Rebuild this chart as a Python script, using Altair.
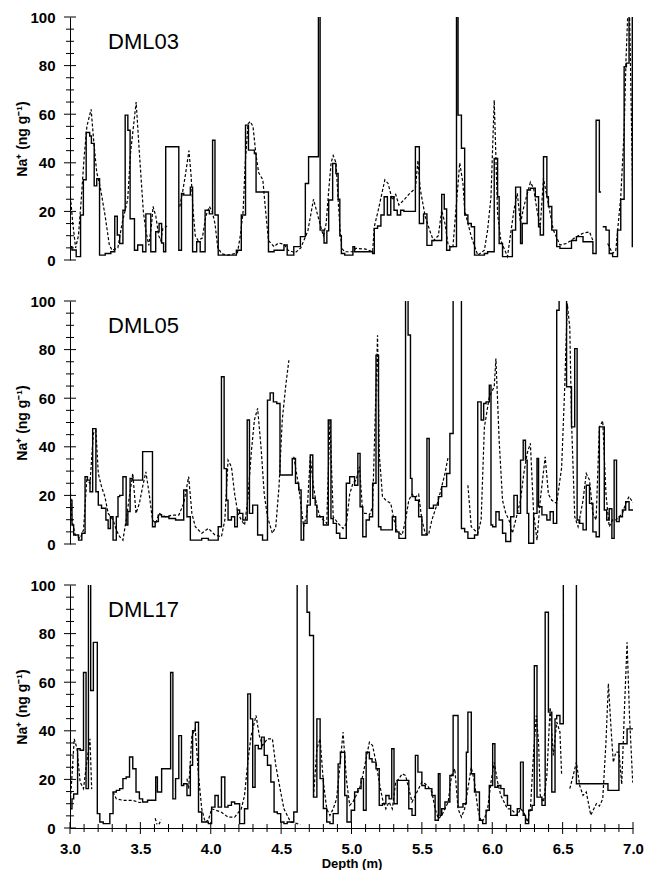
import altair as alt
import pandas as pd

FONT = "Liberation Sans"

# ---------------- axis tick / label values ----------------
Y_LABELS = [0, 20, 40, 60, 80, 100]
Y_MAJOR = [0, 20, 40, 60, 80, 100]
Y_MINOR = [5, 10, 15, 25, 30, 35, 45, 50, 55, 65, 70, 75, 85, 90, 95]
X_LABELS = [3.0, 3.5, 4.0, 4.5, 5.0, 5.5, 6.0, 6.5, 7.0]
X_MAJOR = [3.0, 3.5, 4.0, 4.5, 5.0, 5.5, 6.0, 6.5, 7.0]
X_MINOR = [3.1, 3.2, 3.3, 3.4, 3.6, 3.7, 3.8, 3.9, 4.1, 4.2, 4.3, 4.4,
           4.6, 4.7, 4.8, 4.9, 5.1, 5.2, 5.3, 5.4, 5.6, 5.7, 5.8, 5.9,
           6.1, 6.2, 6.3, 6.4, 6.6, 6.7, 6.8, 6.9]

PANELS = ["DML03", "DML05", "DML17"]

# ---------------- DML03 ----------------
DML03_SOLID_DEPTH = [
    3.000, 3.014, 3.044, 3.075, 3.095, 3.115, 3.140, 3.152, 3.172, 3.190,
    3.210, 3.250, 3.290, 3.318, 3.336, 3.353, 3.376, 3.392, 3.411, 3.427,
    3.458, 3.481, 3.516, 3.539, 3.574, 3.609, 3.633, 3.651, 3.665, 3.680,
    3.773, 3.792, 3.808, 3.855, 3.871, 3.900, 3.925, 3.960, 3.990, 4.013,
    4.030, 4.053, 4.182, 4.217, 4.247, 4.268, 4.310, 4.322, 4.410, 4.450,
    4.520, 4.543, 4.590, 4.637, 4.672, 4.695, 4.765, 4.777, 4.805, 4.825,
    4.838, 4.866, 4.889, 4.905, 4.917, 4.928, 4.952, 5.010, 5.022, 5.150,
    5.162, 5.185, 5.209, 5.232, 5.255, 5.279, 5.302, 5.325, 5.349, 5.372,
    5.454, 5.482, 5.512, 5.536, 5.571, 5.641, 5.659, 5.676, 5.699, 5.746,
    5.757, 5.781, 5.804, 5.827, 5.851, 5.874, 5.944, 5.967, 6.014, 6.038,
    6.049, 6.073, 6.143, 6.166, 6.201, 6.213, 6.248, 6.271, 6.306, 6.329,
    6.341, 6.364, 6.388, 6.399, 6.423, 6.458, 6.481, 6.563, 6.598, 6.645,
    6.715, 6.738, 6.761, 6.773, None,
    6.785, 6.808, 6.831, 6.855, 6.890, 6.913, 6.937, 6.953, 6.972, 6.995,
    7.000]
DML03_SOLID_NA = [
    5.5, 4.1, 1.4, 18.5, 33, 52.5, 51, 48, 30.5, 33.5,
    2, 2.7, 3.4, 18, 10.3, 6.8, 20.5, 59.6, 53.4, 17,
    4, 6.2, 3.4, 19, 3.4, 11.6, 15, 7, 3.4, 46.6,
    4, 27.4, 26.7, 30, 3.4, 7.5, 3.4, 20.5, 19, 49.3,
    18.5, 2, 4, 18.5, 55.5, 45.2, 43.8, 28, 3.4, 4,
    6.2, 2, 5.5, 9.6, 31.5, 42.5, 130, 12.3, 7, 12,
    24.7, 39.7, 35.6, 25, 10, 2.7, 2, 5.5, 3.4, 2.7,
    13, 14, 18.5, 26, 18.5, 26, 20.5, 18.5, 20.5, 20,
    46.6, 15, 19, 6, 8, 27, 21, 4, 5.5, 130,
    59.6, 46, 18.5, 15, 13.7, 2, 2.7, 3.4, 41.8, 26,
    6.8, 1.4, 12.3, 30, 6.8, 15, 28.8, 29.5, 26, 13.7,
    10.3, 42.5, 26, 22, 12.3, 5.5, 4.8, 8, 9.6, 7.5,
    2.7, 57.5, 28, 28, None,
    13.7, 12.3, 2.7, 1.4, 12.3, 25, 79.5, 81, 130, 5.5,
    5.5]
DML03_DASH_DEPTH = [
    3.000, 3.020, 3.040, 3.060, 3.080, 3.100, 3.120, 3.150, 3.170, 3.190,
    3.215, 3.250, 3.280, 3.300, 3.340, 3.370, 3.390, 3.410, 3.430, 3.470,
    3.493, 3.521, 3.539, 3.560, 3.580, 3.590, 3.610, 3.630, 3.645, 3.660,
    3.690, None,
    3.780, 3.800, 3.820, 3.845, 3.860, 3.875, 3.890, 3.910, 3.940, 3.965,
    3.990, 4.010, 4.030, 4.050, 4.080, 4.120, 4.160, 4.190, 4.210, 4.230,
    4.245, 4.265, 4.280, 4.300, 4.320, 4.340, 4.370, 4.390, 4.410, 4.450,
    4.480, 4.520, 4.550, 4.600, 4.640, 4.690, 4.730, 4.780, 4.800, 4.820,
    4.840, 4.855, 4.870, 4.890, 4.905, 4.917, 4.930, 4.950, 5.010, 5.030,
    5.100, 5.150, 5.162, 5.190, 5.237, 5.260, 5.290, 5.314, 5.337, 5.372,
    5.407, 5.454, 5.472, 5.489, 5.524, 5.559, 5.582, 5.617, 5.641, 5.664,
    5.687, 5.720, 5.769, 5.792, 5.804, 5.851, 5.897, 5.944, 5.967, 5.991,
    6.014, 6.038, 6.061, 6.108, 6.154, 6.178, 6.201, 6.224, 6.271, 6.294,
    6.318, 6.341, 6.364, 6.399, 6.434, 6.481, 6.528, 6.598, 6.645, 6.691,
    6.715, None,
    6.820, 6.855, 6.878, 6.913, 6.937, 6.950, 6.962, 6.975, 6.988, 6.998]
DML03_DASH_NA = [
    28, 15, 5, 10, 25, 42, 55, 62, 48, 36,
    30, 18, 6, 4, 5, 15, 20, 25, 44, 65,
    44, 20, 12, 6, 15, 22, 18, 10, 8, 13,
    14, None,
    22, 28, 35, 45, 35, 20, 10, 8, 9, 18,
    22, 20, 15, 5, 2.5, 2, 2.5, 3, 10, 20,
    40, 56, 57, 55, 44, 36, 33, 20, 8, 5.5,
    7, 6.5, 4, 3, 5, 12, 25, 14, 10, 15,
    30, 40, 43, 40, 25, 13.7, 5, 3.4, 3.4, 4.8,
    4.5, 3.4, 13.7, 20.5, 33, 31.5, 24.7, 27, 22.6, 24.7,
    27, 29.5, 41, 29, 17.8, 11.6, 8, 10, 20.5, 15,
    6, 5, 40, 31.5, 20.5, 9.6, 2, 4, 12.3, 26,
    65.8, 19, 8, 1.4, 20.5, 27.4, 15, 21.9, 32, 29.5,
    20.5, 13.7, 33.6, 23, 12.3, 6.2, 6.8, 9.6, 11, 11.6,
    8, None,
    6.8, 2.7, 4, 26, 53, 82, 100, 104, 60, 26]

# ---------------- DML05 ----------------
DML05_SOLID_DEPTH = [
    3.000, 3.014, 3.026, 3.061, 3.084, 3.107, 3.124, 3.142, 3.161, 3.184,
    3.201, 3.224, 3.255, 3.271, 3.287, 3.306, 3.329, 3.341, 3.353, 3.376,
    3.399, 3.411, 3.427, 3.446, 3.516, 3.586, 3.605, 3.628, 3.651, 3.703,
    3.750, 3.808, 3.831, 3.855, 3.936, 3.983, 4.053, 4.076, 4.095, 4.112,
    4.123, 4.147, 4.170, 4.189, 4.205, 4.228, 4.259, 4.275, 4.298, 4.333,
    4.368, 4.403, 4.422, 4.445, 4.469, 4.492, 4.579, 4.602, 4.625, 4.642,
    4.660, 4.684, 4.707, 4.725, 4.742, 4.754, 4.800, 4.835, 4.854, 4.870,
    4.893, 4.917, 4.963, 4.987, 5.022, 5.045, 5.061, 5.080, 5.104, 5.127,
    5.150, 5.174, 5.192, 5.209, 5.290, 5.314, 5.337, 5.384, 5.402, 5.419,
    5.430, 5.454, 5.477, 5.500, 5.536, 5.552, 5.582, 5.617, 5.641, 5.676,
    5.699, 5.722, 5.781, 5.804, 5.827, 5.874, 5.897, 5.921, 5.939, 5.956,
    5.979, 5.991, 6.003, 6.026, 6.049, 6.073, 6.096, 6.131, 6.154, 6.178,
    6.201, 6.220, 6.236, 6.248, 6.259, 6.294, 6.318, 6.329, 6.353, 6.388,
    6.411, 6.434, 6.458, 6.475, 6.528, 6.563, 6.586, 6.603, 6.621, 6.645,
    6.668, 6.691, 6.715, 6.738, 6.761, 6.796, 6.813, 6.831, 6.850, 6.866,
    6.883, 6.902, 6.925, 6.948, 6.972, 7.000]
DML05_SOLID_NA = [
    18, 7.8, 3.7, 1.6, 4.4, 27.7, 26.3, 21.5, 47.5, 21.5,
    16, 14.7, 9.9, 6.4, 11.2, 1.6, 11.2, 19.5, 20, 27.7,
    7.8, 13.4, 27, 26.3, 38, 7.1, 9.2, 12, 11.2, 10.5,
    9.9, 22.2, 11.2, 1.6, 2.3, 1.6, 7.1, 68.8, 31, 18,
    9.9, 11.2, 7.1, 14, 12.6, 9.9, 51, 12.6, 16, 3.7,
    1.6, 59.2, 62.2, 58.5, 57.8, 28.4, 35.2, 25, 22.2, 1.6,
    8.5, 16, 36.6, 18.8, 16, 11.2, 7.8, 51, 10.5, 8.5,
    4.4, 2.3, 25, 27.7, 24.2, 37.3, 15.3, 3, 9.9, 11.2,
    25, 77.7, 7.1, 5.8, 11.2, 5, 2.3, 130, 86, 27,
    19.5, 18, 11.2, 3.7, 43.4, 14.7, 16, 19.5, 23.6, 29,
    45.5, 130, 6.4, 5, 2.3, 3.7, 58.5, 51, 57.8, 58.5,
    65.3, 7.8, 7.1, 13.3, 9.9, 4.4, 1, 11.2, 20, 12.6,
    34.5, 42.7, 34.5, 12.6, 0.3, 12.6, 35.2, 15.3, 12, 9.9,
    13.3, 8.5, 96.2, 130, 64.7, 48.2, 80.4, 9.9, 8.5, 5.8,
    24.2, 16.7, 5, 3, 48.2, 14, 9.9, 14.5, 2.3, 34.5,
    9.2, 11.2, 14, 17.4, 14, 14]
DML05_DASH_DEPTH = [
    3.000, 3.014, 3.037, 3.072, 3.096, 3.119, 3.142, 3.166, 3.184, 3.201,
    3.224, 3.248, 3.271, 3.306, 3.329, 3.353, 3.376, 3.399, 3.423, 3.446,
    3.469, 3.493, 3.516, 3.539, 3.563, 3.586, 3.609, 3.633, 3.680, 3.726,
    3.773, 3.808, 3.843, 3.866, 3.890, 3.936, 3.983, 4.030, 4.076, 4.100,
    4.123, 4.147, 4.170, 4.193, 4.217, 4.240, 4.263, 4.287, 4.310, 4.333,
    4.357, 4.380, 4.403, 4.438, 4.462, 4.485, 4.508, 4.532, 4.555, None,
    4.590, 4.625, 4.660, 4.684, 4.707, 4.730, 4.754, 4.777, 4.824, 4.847,
    4.870, 4.905, 4.940, 4.964, 4.987, 5.010, 5.033, 5.057, 5.080, 5.104,
    5.127, 5.150, 5.185, 5.197, 5.220, 5.244, 5.279, 5.302, 5.325, 5.360,
    5.384, 5.407, 5.430, 5.454, 5.477, 5.500, 5.524, 5.547, 5.571, 5.617,
    5.664, 5.687, None,
    5.827, 5.851, 5.897, 5.921, 5.944, 5.979, 6.014, 6.026, 6.049, 6.073,
    6.096, 6.119, 6.143, 6.178, 6.201, 6.224, 6.248, 6.271, 6.294, 6.318,
    6.341, 6.376, 6.399, 6.423, 6.458, 6.493, 6.515, 6.533, 6.551, 6.563,
    6.586, 6.610, 6.645, 6.668, 6.691, 6.715, 6.738, 6.761, 6.785, 6.808,
    6.831, 6.855, 6.878, 6.902, 6.925, 6.948, 6.972, 7.000]
DML05_DASH_NA = [
    25, 9.9, 3.7, 2.3, 5.8, 26.3, 25, 45.5, 46.8, 29,
    23.6, 19.5, 12.6, 9.9, 5.8, 3, 1.6, 9.9, 20, 29,
    12.6, 16.7, 23.6, 29.7, 20.5, 9.9, 8.5, 12.6, 11.2, 11.9,
    11.9, 16.7, 27.7, 12.6, 7.1, 4.4, 6.4, 3.7, 3, 9.9,
    34.5, 31.8, 20.5, 12.6, 9.9, 7.8, 18, 37, 51, 55.8,
    40, 20.5, 11.2, 4.4, 7.1, 23.6, 51, 64.7, 75.6, None,
    35.9, 23.6, 7.1, 12.6, 35.9, 23.6, 15.3, 11.2, 8.5, 51,
    11.2, 8.5, 6.4, 8.5, 20.5, 25, 26.3, 31.8, 12.6, 12.6,
    11.9, 15.3, 85.9, 37.3, 19.5, 18, 16.7, 9.9, 5, 3.7,
    9.9, 18, 20.5, 19.2, 20.5, 9.9, 4.4, 3.7, 9.9, 18,
    29, 35.9, None,
    24.2, 7.1, 4.4, 9.9, 48, 60.5, 64.7, 76.3, 42.7, 18,
    12.6, 9.9, 4.4, 12.6, 18, 29, 37.3, 41.4, 12.6, 1.6,
    18, 35.9, 20.5, 18, 16.7, 31.5, 64.7, 99, 89, 51,
    11.2, 7.1, 18, 29, 26.3, 12.6, 9.9, 48, 50.7, 20.5,
    7.1, 9.9, 9.9, 11.2, 12.6, 16.7, 19.5, 17]

# ---------------- DML17 ----------------
DML17_SOLID_DEPTH = [
    3.000, 3.014, 3.026, 3.054, 3.072, 3.096, 3.114, 3.131, 3.147, 3.166,
    3.194, 3.212, 3.236, 3.283, 3.306, 3.329, 3.353, 3.376, 3.399, 3.423,
    3.446, 3.469, 3.493, 3.516, 3.551, 3.609, 3.621, 3.651, 3.715, 3.731,
    3.750, 3.773, 3.792, 3.808, 3.831, 3.855, 3.871, 3.890, 3.913, 3.936,
    3.983, 4.006, 4.030, 4.053, 4.076, 4.100, 4.123, 4.147, 4.170, 4.205,
    4.240, 4.263, 4.282, 4.298, 4.315, 4.338, 4.361, 4.380, 4.403, 4.427,
    4.450, 4.473, 4.497, 4.520, 4.543, 4.590, 4.614, 4.684, 4.702, 4.730,
    4.754, 4.777, 4.800, 4.824, 4.847, 4.870, 4.905, 4.921, 4.952, 4.968,
    4.998, 5.022, 5.045, 5.068, 5.085, 5.104, 5.127, 5.146, 5.174, 5.197,
    5.220, 5.244, 5.267, 5.286, 5.302, 5.325, 5.407, 5.430, 5.454, 5.472,
    5.500, 5.524, 5.571, 5.594, 5.617, 5.629, 5.641, 5.664, 5.699, 5.722,
    5.757, 5.792, 5.816, 5.827, 5.851, 5.874, 5.909, 5.932, 5.956, 5.979,
    6.003, 6.019, 6.038, 6.061, 6.084, 6.108, 6.131, 6.178, 6.201, 6.220,
    6.236, 6.259, 6.283, 6.299, 6.318, 6.353, 6.376, 6.399, 6.423, 6.446,
    6.458, 6.481, 6.505, 6.598, 6.822, 6.900, 6.958, 7.000]
DML17_SOLID_NA = [
    7.9, 12, 14, 32.6, 32, 64, 16.2, 130, 56.6, 76.4,
    5.9, 2.5, 1.8, 5.9, 14.8, 15.5, 16.2, 20.3, 21, 29.2,
    24.4, 14.8, 12, 10.7, 11.4, 21, 14.8, 24.4, 64, 12,
    20.3, 38, 17.5, 18.2, 13.4, 25.8, 40, 43.5, 6.6, 2.5,
    1.8, 8.6, 13.4, 8.6, 21, 8.6, 9.3, 10.7, 10, 1.8,
    7.9, 55.2, 44.9, 16.8, 34, 32.6, 37.4, 29.9, 25.8, 18.9,
    6.6, 5.9, 2.5, 1.8, 2.5, 6.6, 140, 88.8, 79.2, 12.7,
    44.9, 20.3, 8, 2.5, 1.8, 5.9, 26.4, 31.2, 13.4, 2.5,
    7.3, 14.8, 16.2, 20.3, 7.3, 31.2, 28.5, 27.1, 24.4, 9.3,
    10, 13.4, 12, 32.6, 10, 19.6, 7.9, 5.2, 29.9, 23,
    17.5, 16.2, 13.4, 3.2, 22.3, 5.2, 7.9, 10.7, 21.6, 46.3,
    8.6, 10, 31.2, 47.7, 22.3, 14.8, 3.2, 1.8, 7.3, 17.5,
    34.7, 16.8, 17.5, 16.2, 13.4, 9.3, 5.2, 7.9, 27.1, 5.2,
    1.8, 7.3, 9.3, 66.8, 12.7, 9.3, 88.8, 47.7, 14.8, 44.9,
    46.3, 42.9, 150, 18.2, 15.5, 34.7, 40.8, 40.8]
DML17_DASH_DEPTH = [
    3.000, 3.014, 3.030, 3.050, 3.072, 3.096, 3.119, 3.142, 3.154, None,
    3.306, 3.329, 3.376, 3.446, 3.493, 3.520, None,
    3.605, 3.618, None, 3.632, 3.648, None,
    3.831, 3.843, 3.866, 3.890, 3.913, 3.936, 3.960, 3.983, 4.006, 4.076,
    4.123, 4.170, 4.217, 4.240, 4.263, 4.287, 4.322, 4.345, 4.368, 4.403,
    4.438, 4.462, 4.497, 4.520, 4.567, 4.614, 4.637, None,
    4.730, 4.754, 4.777, 4.800, 4.824, 4.847, 4.870, 4.894, 4.917, 4.940,
    4.964, 4.987, 5.010, 5.033, 5.057, 5.080, 5.104, 5.127, 5.150, 5.174,
    5.197, 5.220, 5.244, 5.267, 5.290, 5.314, 5.337, 5.360, 5.384, 5.407,
    5.430, 5.454, 5.477, 5.500, 5.524, 5.547, 5.571, 5.594, 5.617, 5.641,
    5.664, 5.687, 5.711, 5.734, 5.757, 5.781, 5.804, 5.827, 5.851, 5.874,
    5.897, 5.921, 5.944, 5.967, 5.991, 6.014, 6.038, 6.061, 6.084, 6.108,
    6.131, 6.154, 6.178, 6.201, 6.224, 6.248, 6.271, 6.294, 6.313, 6.329,
    6.341, 6.364, 6.388, 6.411, 6.434, 6.458, 6.481, 6.493, None,
    6.551, 6.575, 6.598, 6.621, 6.645, 6.668, 6.700, 6.740, 6.761, 6.785,
    6.808, 6.825, 6.845, 6.860, 6.878, 6.900, 6.920, 6.940, 6.958, 6.975,
    6.998]
DML17_DASH_NA = [
    7.9, 21.6, 36.7, 32.6, 18.9, 16.2, 27, 36.7, 16, None,
    14.8, 12, 11.4, 11.4, 10.5, 10.7, None,
    4, 1.5, None, 1.5, 3.5, None,
    20.3, 16.2, 38, 40.8, 21.6, 7.9, 2.5, 3.2, 7.9, 6.5,
    4.5, 4.5, 7.9, 13.4, 27, 38, 46.3, 38, 34, 36.7,
    36.7, 25.8, 14.8, 7.9, 2.5, 1.8, 1.4, None,
    12.7, 32.6, 36.7, 18.9, 7.9, 5.2, 7.9, 12, 25, 39.5,
    20, 9.3, 10.7, 13.4, 16.2, 21.6, 28.5, 35.3, 33.9, 27,
    18.9, 12, 7.9, 10.7, 7.9, 18.9, 20.3, 22.3, 21.6, 16.2,
    10.7, 13.4, 16.2, 18.9, 18.2, 16.8, 14.8, 7.9, 3.8, 5.2,
    7.9, 10.7, 21.6, 24.4, 7.9, 4.5, 7.9, 16.2, 25, 18.9,
    7.9, 2.5, 3.8, 7.9, 18.9, 27, 18.9, 13.4, 10.7, 7.9,
    7.9, 6.6, 5.2, 7.9, 6.6, 2.5, 7.9, 31.2, 46.3, 35.3,
    13.4, 10.7, 21.6, 49.7, 29.9, 43.6, 39.5, 21.6, None,
    16.2, 21.6, 27.1, 17.5, 13.4, 14.8, 5.3, 10, 9, 12,
    35.3, 59.5, 40, 27, 31.2, 31.2, 18, 50, 76.4, 46.3,
    18.7]

SERIES = {
    "DML03": (DML03_SOLID_DEPTH, DML03_SOLID_NA, DML03_DASH_DEPTH, DML03_DASH_NA),
    "DML05": (DML05_SOLID_DEPTH, DML05_SOLID_NA, DML05_DASH_DEPTH, DML05_DASH_NA),
    "DML17": (DML17_SOLID_DEPTH, DML17_SOLID_NA, DML17_DASH_DEPTH, DML17_DASH_NA),
}


def to_frame(depths, values):
    rows, seg = [], 0
    for d, v in zip(depths, values):
        if d is None or v is None:
            seg += 1
            continue
        rows.append({"depth": d, "na": v, "seg": seg})
    return pd.DataFrame(rows)


W, H = 563, 243
X_DOMAIN = [3.0, 7.0]
Y_DOMAIN = [0, 100]


def y_axis():
    return alt.Axis(
        values=Y_LABELS, ticks=False, grid=False, domain=True,
        domainColor="black", domainWidth=1,
        labelFont=FONT, labelFontWeight="bold", labelFontSize=15,
        labelColor="black", labelPadding=15,
        title="Na⁺ (ng g⁻¹)", titleFont=FONT, titleFontWeight="bold",
        titleFontSize=14, titleColor="black", titlePadding=0,
    )


def x_axis():
    return alt.Axis(
        values=X_LABELS, format=".1f", ticks=False, grid=False, domain=True,
        domainColor="black", domainWidth=1, labelFlush=False,
        labelFont=FONT, labelFontWeight="bold", labelFontSize=15,
        labelColor="black", labelPadding=13,
        title="Depth (m)", titleFont=FONT, titleFontWeight="bold",
        titleFontSize=13, titleColor="black", titlePadding=1,
    )


def panel(name, bottom):
    sd, sv, dd, dv = SERIES[name]
    solid_df = to_frame(sd, sv)
    dash_df = to_frame(dd, dv)

    ytick_df = pd.DataFrame(
        {"na": Y_MAJOR + Y_MINOR,
         "size": [12] * len(Y_MAJOR) + [8] * len(Y_MINOR)})
    ytick_df["depth"] = X_DOMAIN[0]

    xs = alt.Scale(domain=X_DOMAIN, nice=False, zero=False)
    ys = alt.Scale(domain=Y_DOMAIN, nice=False, zero=False)

    base_x = alt.X("depth:Q", scale=xs,
                   axis=x_axis() if bottom else None)
    base_y = alt.Y("na:Q", scale=ys, axis=y_axis())

    dashed = alt.Chart(dash_df).mark_line(
        color="black", strokeWidth=1.2, strokeDash=[3, 2], clip=True
    ).encode(x=base_x, y=base_y, detail="seg:N")

    solid = alt.Chart(solid_df).mark_line(
        color="black", strokeWidth=1.4, interpolate="step-after", clip=True
    ).encode(x=base_x, y=base_y, detail="seg:N")

    yticks = alt.Chart(ytick_df).mark_tick(
        orient="horizontal", thickness=1, color="black", opacity=1
    ).encode(x=base_x, y=base_y,
             size=alt.Size("size:Q", scale=None, legend=None))

    lab_df = pd.DataFrame({"name": [name], "depth": [3.27], "na": [87]})
    label = alt.Chart(lab_df).mark_text(
        align="left", baseline="alphabetic", font=FONT, fontSize=22,
        color="black"
    ).encode(x=base_x, y=base_y, text="name:N")

    layers = [dashed, solid, yticks, label]
    if bottom:
        xtick_df = pd.DataFrame(
            {"depth": X_MAJOR + X_MINOR,
             "size": [12] * len(X_MAJOR) + [8] * len(X_MINOR)})
        xtick_df["na"] = Y_DOMAIN[0]
        xticks = alt.Chart(xtick_df).mark_tick(
            orient="vertical", thickness=1, color="black", opacity=1
        ).encode(x=base_x, y=base_y,
                 size=alt.Size("size:Q", scale=None, legend=None))
        layers.append(xticks)
    return alt.layer(*layers).properties(width=W, height=H)


chart = alt.vconcat(
    panel("DML03", False), panel("DML05", False), panel("DML17", True),
    spacing=26,
).properties(
    padding={"left": 7, "top": 2, "right": 0, "bottom": 0},
    background="white",
).configure_view(stroke=None)

chart.save("out.html", embed_options={"renderer": "svg", "actions": False})
